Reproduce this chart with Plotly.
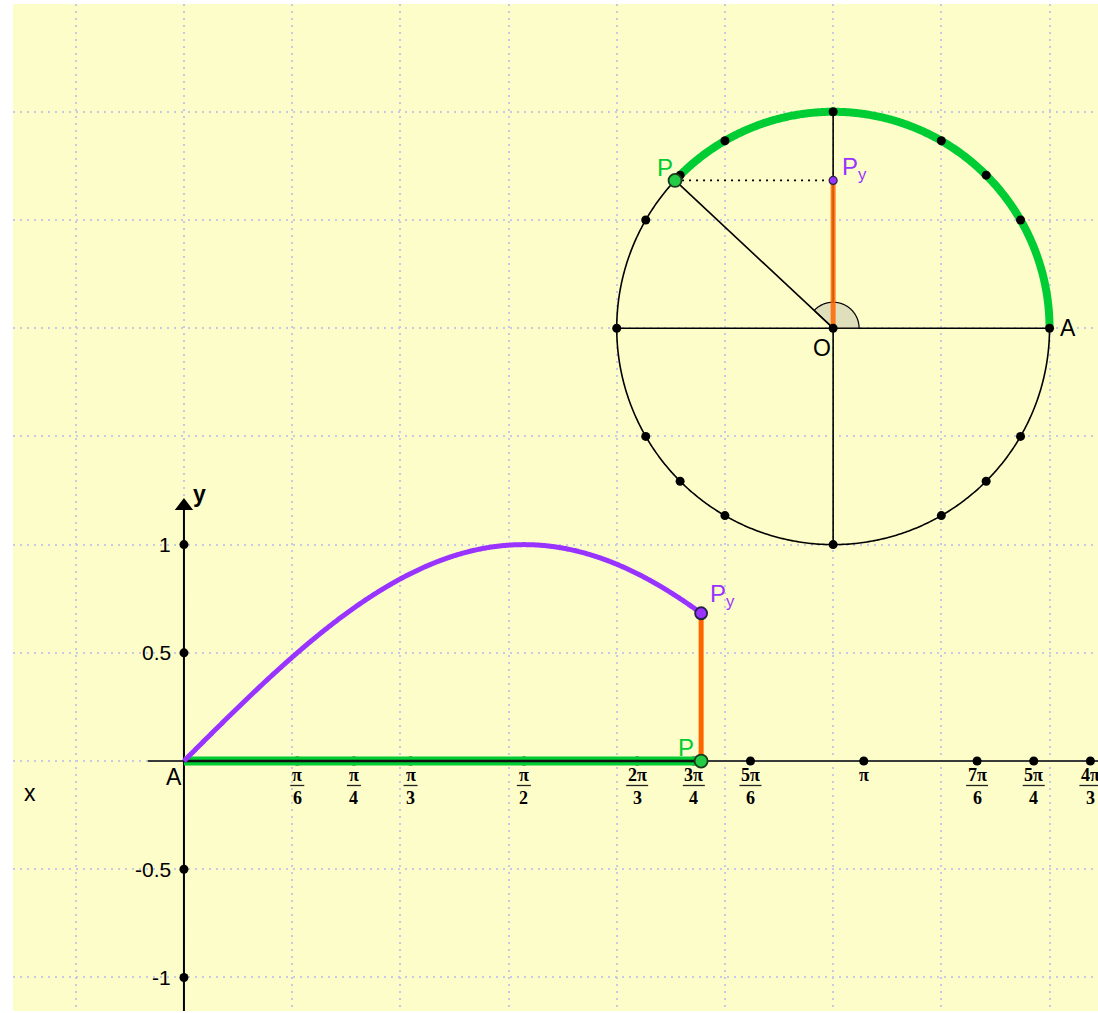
import numpy as np
import plotly.graph_objects as go

# ---------------- data ----------------
angle_t = 2.39                     # current angle of P (radians)
circle_center = (3.0, 2.0)         # O
circle_radius = 1.0

# marked angles on the unit circle (numerator, denominator) of pi
circle_marks_num = [0, 1, 1, 1, 1, 2, 3, 5, 1, 7, 5, 4, 3, 5, 7, 11]
circle_marks_den = [1, 6, 4, 3, 2, 3, 4, 6, 1, 6, 4, 3, 2, 3, 4, 6]

# x-axis ticks (multiples of pi)
xtick_num = [1, 1, 1, 1, 2, 3, 5, 1, 7, 5, 4]
xtick_den = [6, 4, 3, 2, 3, 4, 6, 1, 6, 4, 3]
xtick_top = ["π", "π", "π", "π", "2π", "3π", "5π", "π", "7π", "5π", "4π"]
xtick_bot = ["6", "4", "3", "2", "3", "4", "6", "", "6", "4", "3"]

ytick_vals = [1, 0.5, -0.5, -1]
ytick_text = ["1", "0.5", "-0.5", "-1"]

# ---------------- styling ----------------
BG = "#FDFDCA"
GREEN = "#00CC33"
PURPLE = "#9933FF"
ORANGE = "#FF6600"
GRID = "#C9C9E4"
XR = [-0.790, 4.224]
YR = [-1.155, 3.498]

cx, cy = circle_center
R = circle_radius
fig = go.Figure()


def line(xs, ys, color="black", width=1.5, dash=None, opacity=1.0, fill=None, fillcolor=None):
    fig.add_trace(go.Scatter(x=xs, y=ys, mode="lines", opacity=opacity,
                             line=dict(color=color, width=width, dash=dash, simplify=False),
                             fill=fill, fillcolor=fillcolor,
                             hoverinfo="skip", showlegend=False))


def pts(xs, ys, color="black", size=9, lcolor=None, lwidth=0):
    fig.add_trace(go.Scatter(x=xs, y=ys, mode="markers",
                             marker=dict(color=color, size=size,
                                         line=dict(color=lcolor or color, width=lwidth)),
                             hoverinfo="skip", showlegend=False))


# ---------------- unit circle ----------------
th = np.linspace(0, 2 * np.pi, 721)
line(cx + R * np.cos(th), cy + R * np.sin(th), width=1.6)
line([cx - R, cx + R], [cy, cy], width=1.6)
line([cx, cx], [cy - R, cy + R], width=1.6)

# angle sector
ra = 0.12
ta = np.linspace(0, angle_t, 120)
line(np.r_[cx, cx + ra * np.cos(ta), cx], np.r_[cy, cy + ra * np.sin(ta), cy],
     width=1.2, fill="toself", fillcolor="#E0DFBC")

# green arc
ta = np.linspace(0, angle_t, 400)
line(cx + R * np.cos(ta), cy + R * np.sin(ta), color=GREEN, width=8)

Px, Py = cx + R * np.cos(angle_t), cy + R * np.sin(angle_t)
line([cx, Px], [cy, Py], width=1.6)
line([Px, cx], [Py, Py], width=1.8, dash="2px,5px")
line([cx, cx], [cy, Py], color=ORANGE, width=5, opacity=0.85)

marks = np.array(circle_marks_num) / np.array(circle_marks_den) * np.pi
pts(cx + R * np.cos(marks), cy + R * np.sin(marks), size=9)
pts([cx], [cy], size=9)
pts([Px], [Py], color="#22CC44", size=13, lcolor="#1c3a1c", lwidth=1.8)
pts([cx], [Py], color=PURPLE, size=8, lcolor="#222244", lwidth=1.2)

# ---------------- graph ----------------
xt = np.array(xtick_num) / np.array(xtick_den) * np.pi
line([-0.167, XR[1]], [0, 0], color="#3a3a3a", width=2)
line([0, 0], [YR[0], 1.16], color="black", width=2)
fig.add_trace(go.Scatter(x=[0], y=[1.178], mode="markers",
                         marker=dict(symbol="triangle-up", size=16, color="black"),
                         hoverinfo="skip", showlegend=False))
pts(xt, np.zeros_like(xt), size=9)
pts([0] * len(ytick_vals), ytick_vals, size=9)

line([0, angle_t], [0, 0], color=GREEN, width=9)
line([0, angle_t], [0, 0], color="#111111", width=2.5)

xs = np.linspace(0, angle_t, 500)
line(xs, np.sin(xs), color=PURPLE, width=5)
line([angle_t, angle_t], [0, np.sin(angle_t)], color=ORANGE, width=5)
pts([angle_t], [0], color="#22CC44", size=13, lcolor="#1c3a1c", lwidth=1.8)
pts([angle_t], [np.sin(angle_t)], color=PURPLE, size=12, lcolor="#222244", lwidth=1.8)

# ---------------- labels ----------------
ann = []
SANS = "Liberation Sans"
SERIF = "Liberation Serif"


def label(x, y, text, color="black", size=24, xanchor="center", yanchor="middle", family=SANS):
    ann.append(dict(x=x, y=y, text=text, showarrow=False, xanchor=xanchor, yanchor=yanchor,
                    font=dict(family=family, size=size, color=color)))


for v, t in zip(ytick_vals, ytick_text):
    label(-0.049, v, t, size=21, xanchor="right")

shapes = []
for v, top, bot in zip(xt, xtick_top, xtick_bot):
    label(v, -0.064, "<b>" + top + "</b>", size=18, family=SERIF)
    if bot:
        label(v, -0.170, "<b>" + bot + "</b>", size=18, family=SERIF)
        hw = 7 if len(top) == 1 else 11
        shapes.append(dict(type="line", xref="x", yref="y", xsizemode="pixel", xanchor=v,
                           x0=-hw, x1=hw, y0=-0.113, y1=-0.113,
                           line=dict(color="#222222", width=1.3)))

label(0.072, 1.232, "<b>y</b>", size=23)
label(-0.712, -0.148, "x", size=23)
label(-0.044, -0.074, "A", size=23)
label(2.32, 0.062, "P", color=GREEN, size=24)
label(2.422, 0.765, "P<sub>y</sub>", color=PURPLE, size=24, xanchor="left")
label(2.223, 2.742, "P", color=GREEN, size=24)
label(3.032, 2.740, "P<sub>y</sub>", color=PURPLE, size=24, xanchor="left")
label(2.948, 1.910, "O", size=23)
label(4.084, 2.003, "A", size=23)

fig.update_layout(
    width=1098, height=1013,
    margin=dict(l=13, r=0, t=4, b=2),
    paper_bgcolor="white", plot_bgcolor=BG,
    annotations=ann, shapes=shapes,
    xaxis=dict(range=XR, dtick=0.5, tick0=0, showgrid=True, gridcolor=GRID, gridwidth=1.5,
               griddash="2px,5px", zeroline=False, showticklabels=False, ticks="",
               showline=False, fixedrange=True),
    yaxis=dict(range=YR, dtick=0.5, tick0=0, showgrid=True, gridcolor=GRID, gridwidth=1.5,
               griddash="2px,5px", zeroline=False, showticklabels=False, ticks="",
               showline=False, fixedrange=True),
    showlegend=False,
)

fig.write_html("out.html", config={"displayModeBar": False},
               post_script="document.body.style.margin='0';")
